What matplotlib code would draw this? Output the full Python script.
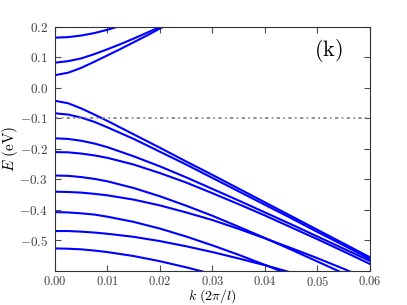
import numpy as np
import matplotlib
matplotlib.use('Agg')
import matplotlib.pyplot as plt
from matplotlib.ticker import FuncFormatter

plt.rcParams['mathtext.fontset'] = 'cm'
plt.rcParams['font.family'] = 'serif'

# k values (2pi/l) for valence bands
k_v = [0.0, 0.0025, 0.005, 0.0075, 0.01, 0.015, 0.02, 0.025, 0.03, 0.035, 0.04, 0.045, 0.05, 0.055, 0.06]
v1 = [-0.042, -0.050, -0.067, -0.087, -0.108, -0.152, -0.196, -0.241, -0.285, -0.330, -0.375, -0.420, -0.465, -0.510, -0.555]
v2 = [-0.083, -0.087, -0.097, -0.111, -0.129, -0.167, -0.209, -0.251, -0.295, -0.339, -0.383, -0.427, -0.472, -0.516, -0.561]
v3 = [-0.165, -0.167, -0.173, -0.182, -0.194, -0.224, -0.257, -0.293, -0.331, -0.369, -0.408, -0.447, -0.487, -0.527, -0.567]
v4 = [-0.210, -0.211, -0.215, -0.221, -0.229, -0.251, -0.279, -0.310, -0.345, -0.381, -0.418, -0.457, -0.496, -0.536, -0.577]
v5 = [-0.287, -0.288, -0.292, -0.298, -0.306, -0.328, -0.355, -0.386, -0.419, -0.455, -0.492, -0.530, -0.569, -0.608, -0.648]
v6 = [-0.340, -0.341, -0.343, -0.347, -0.352, -0.366, -0.385, -0.408, -0.433, -0.462, -0.493, -0.525, -0.558, -0.593, -0.629]
v7 = [-0.407, -0.408, -0.411, -0.415, -0.422, -0.439, -0.461, -0.487, -0.516, -0.547, -0.580, -0.614, -0.650, -0.690, -0.730]
v8 = [-0.469, -0.469, -0.471, -0.474, -0.478, -0.488, -0.502, -0.519, -0.538, -0.559, -0.581, -0.605, -0.630, -0.660, -0.690]
v9 = [-0.526, -0.527, -0.529, -0.533, -0.538, -0.551, -0.568, -0.588, -0.610, -0.635, -0.660, -0.690, -0.720, -0.750, -0.780]

# conduction bands
k_c = [0.0, 0.0025, 0.005, 0.0075, 0.01, 0.0125, 0.015, 0.0175, 0.02, 0.0225]
c1 = [0.165, 0.1668, 0.172, 0.180, 0.191, 0.204, 0.218, 0.233, 0.250, 0.268]
c2 = [0.083, 0.088, 0.097, 0.111, 0.127, 0.144, 0.162, 0.181, 0.200, 0.219]
c3 = [0.042, 0.050, 0.066, 0.086, 0.107, 0.128, 0.150, 0.172, 0.195, 0.217]

e_fermi = -0.1

fig = plt.figure(figsize=(4.07, 3.05), dpi=100)
ax = fig.add_axes([0.135, 0.1115, 0.774, 0.80])

for band in [v1, v2, v3, v4, v5, v6, v7, v8, v9]:
    ax.plot(k_v, band, color='blue', lw=1.5)
for band in [c1, c2, c3]:
    ax.plot(k_c, band, color='blue', lw=1.5)

ax.axhline(e_fermi, color='0.5', lw=1.2, linestyle=(0, (2, 2, 1, 2)))

ax.set_xlim(0, 0.06)
ax.set_ylim(-0.6, 0.2)
ax.set_xticks([0, 0.01, 0.02, 0.03, 0.04, 0.05, 0.06])
ax.set_yticks([-0.5, -0.4, -0.3, -0.2, -0.1, 0.0, 0.1, 0.2])
ax.xaxis.set_major_formatter(FuncFormatter(lambda x, p: r'$%.2f$' % x))
ax.yaxis.set_major_formatter(FuncFormatter(lambda y, p: r'$%.1f$' % (0.0 if abs(y) < 1e-9 else y)))
ax.tick_params(direction='in', top=True, right=True, length=4, labelsize=9.5,
               color='0.3', labelcolor='0.25', pad=5)
ax.tick_params(axis='x', pad=3, labelsize=9)
for s in ax.spines.values():
    s.set_color('0.2')

ax.set_xlabel(r'$k\ (2\pi/l)$', fontsize=10)
ax.set_ylabel(r'$E\ (\mathrm{eV})$', fontsize=11)
ax.xaxis.set_label_coords(0.5, -0.067)
ax.yaxis.set_label_coords(-0.11, 0.5)
ax.text(0.867, 0.905, r'$\mathrm{(k)}$', transform=ax.transAxes, fontsize=16, ha='center', va='center')

fig.savefig('out.png', dpi=100)
